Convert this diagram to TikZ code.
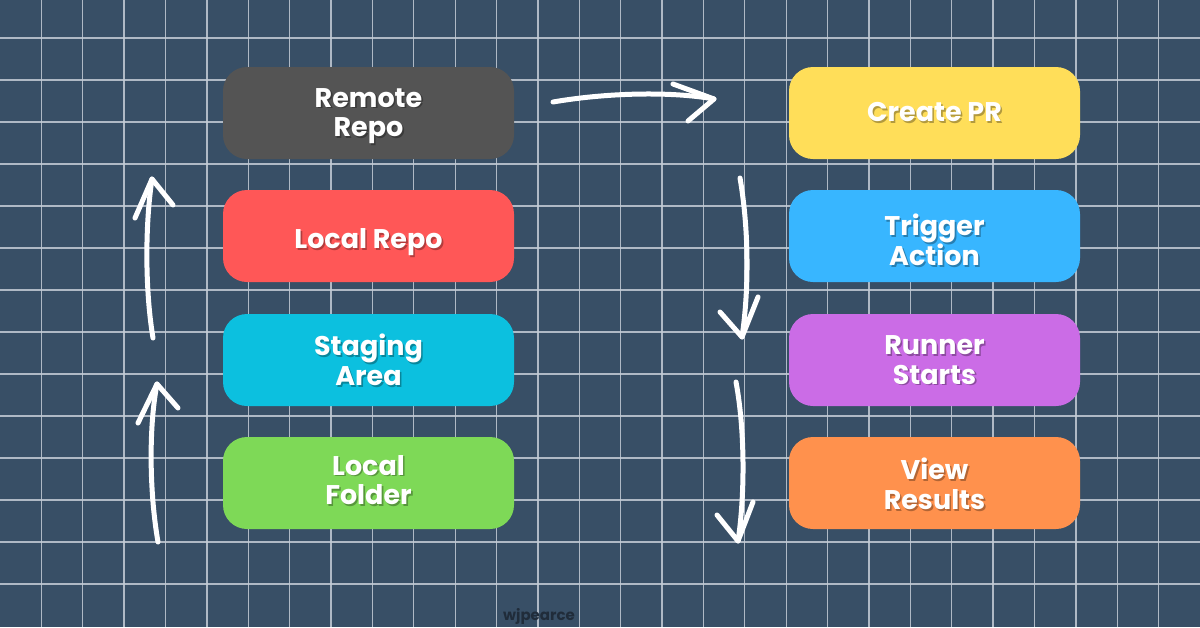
\documentclass[tikz,border=0pt]{standalone}
\usepackage{fontspec}
\newfontfamily\boxfont{Poppins}
\definecolor{bg}{RGB}{56,79,102}
\definecolor{gridc}{RGB}{196,204,214}
\definecolor{cRemote}{HTML}{545454}
\definecolor{cLocal}{HTML}{FF5757}
\definecolor{cStaging}{HTML}{0CC0DF}
\definecolor{cFolder}{HTML}{7ED957}
\definecolor{cPR}{HTML}{FFDE59}
\definecolor{cTrigger}{HTML}{38B6FF}
\definecolor{cRunner}{HTML}{CB6CE6}
\definecolor{cView}{HTML}{FF914D}
\definecolor{wm}{RGB}{32,44,58}
\tikzset{
  box/.style={rounded corners=24pt, minimum width=291pt, minimum height=92pt,
    inner sep=0pt},
  boxtext/.style={inner sep=0pt, align=center, text=white,
    font=\boxfont\bfseries\fontsize{27}{29.5}\selectfont},
  boxshadow/.style={boxtext, text=black, text opacity=0.3},
  sketch/.style={draw=white, line width=5pt, line cap=round, line join=round},
  gridline/.style={draw=gridc, line width=1.3pt, opacity=0.85}
}
\begin{document}
\begin{tikzpicture}[x=1pt,y=-1pt]
\fill[bg] (0,0) rectangle (1200,627);
\useasboundingbox (0,0) rectangle (1200,627);
% grid
\foreach \k in {1,...,28} {\draw[gridline] ({\k*41.3793},0) -- ({\k*41.3793},627);}
\foreach \k in {1,...,14} {\draw[gridline] (0,{-4+42*\k}) -- (1200,{-4+42*\k});}
% boxes
\node[box, fill=cRemote]  (remote)  at (368.5,113) {};
\node[box, fill=cLocal]   (local)   at (368.5,236) {};
\node[box, fill=cStaging] (staging) at (368.5,360) {};
\node[box, fill=cFolder]  (folder)  at (368.5,483) {};
\node[box, fill=cPR]      (pr)      at (934.5,113) {};
\node[box, fill=cTrigger] (trigger) at (934.5,236) {};
\node[box, fill=cRunner]  (runner)  at (934.5,360) {};
\node[box, fill=cView]    (view)    at (934.5,483) {};
% text shadows and texts
\foreach \n/\px/\py/\t in {remote/368.5/116/{Remote\\Repo}, local/368.5/242/{Local Repo}, staging/368.5/360/{Staging\\Area}, folder/368.5/480/{Local\\Folder},
  pr/934.5/112/{Create PR}, trigger/934.5/240/{Trigger\\Action}, runner/934.5/360/{Runner\\Starts}, view/934.5/484/{View\\Results}}
  {\node[boxshadow] (\n-sh) at (\px+1.6,\py+1.6) {\t};
   \node[boxtext] (\n-tx) at (\px,\py) {\t};}
% arrows
\coordinate (a1s) at (553,102); \coordinate (a1e) at (714,99);
\draw[sketch] (a1s) .. controls (605,93) and (670,91) .. (a1e);
\draw[sketch] (673,84) -- (a1e) -- (688,121);
\coordinate (l1s) at (153,338); \coordinate (l1e) at (152,179);
\draw[sketch] (l1s) .. controls (145,290) and (145,225) .. (l1e);
\draw[sketch] (135,218) -- (l1e) -- (173,205);
\coordinate (l2s) at (158,542); \coordinate (l2e) at (157,384);
\draw[sketch] (l2s) .. controls (149,490) and (149,425) .. (l2e);
\draw[sketch] (138,423) -- (l2e) -- (178,408);
\coordinate (r1s) at (740,178); \coordinate (r1e) at (742,337);
\draw[sketch] (r1s) .. controls (749,230) and (749,290) .. (r1e);
\draw[sketch] (720,312) -- (r1e) -- (758,297);
\coordinate (r2s) at (736,382); \coordinate (r2e) at (738,541);
\draw[sketch] (r2s) .. controls (745,430) and (745,495) .. (r2e);
\draw[sketch] (717,515) -- (r2e) -- (753,502);
% watermark
\node[text=wm, font=\boxfont\bfseries\fontsize{15}{18}\selectfont, inner sep=0pt] (wmark) at (539,616) {wjpearce};
\end{tikzpicture}
\end{document}
